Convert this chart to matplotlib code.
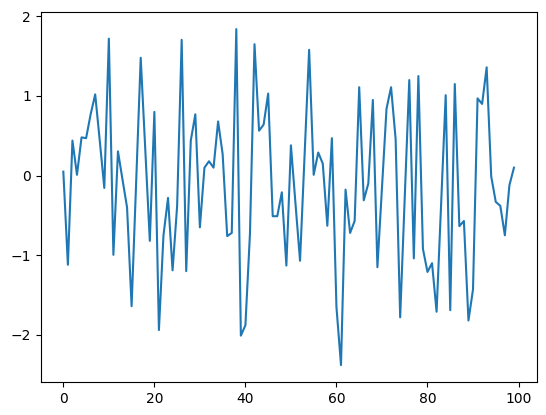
import matplotlib
matplotlib.use("Agg")
import matplotlib.pyplot as plt
import numpy as np

values = [
    0.05, -1.12, 0.44, 0.01, 0.48, 0.47, 0.77, 1.02, 0.44, -0.155,
    1.72, -0.995, 0.305, -0.05, -0.40, -1.64, -0.08, 1.48, 0.33, -0.82,
    0.80, -1.94, -0.75, -0.28, -1.19, -0.38, 1.705, -1.20, 0.44, 0.77,
    -0.65, 0.10, 0.18, 0.10, 0.68, 0.27, -0.76, -0.72, 1.84, -2.01,
    -1.88, -0.73, 1.65, 0.564, 0.64, 1.03, -0.51, -0.51, -0.21, -1.13,
    0.38, -0.35, -1.07, 0.255, 1.58, 0.01, 0.29, 0.15, -0.63, 0.47,
    -1.65, -2.38, -0.176, -0.72, -0.57, 1.11, -0.31, -0.10, 0.95, -1.15,
    -0.155, 0.84, 1.11, 0.46, -1.78, -0.28, 1.20, -1.04, 1.25, -0.92,
    -1.21, -1.10, -1.71, -0.35, 1.01, -1.69, 1.15, -0.635, -0.57, -1.82,
    -1.43, 0.97, 0.90, 1.36, -0.01, -0.33, -0.38, -0.75, -0.12, 0.10,
]
x = np.arange(len(values))

W, H = 546, 415
fig = plt.figure(figsize=(W / 100, H / 100), dpi=100)
ax = fig.add_axes([40.8 / W, (H - 381.9) / H, 495.7 / W, 369.6 / H])
ax.plot(x, values)
fig.savefig("out.png", dpi=100)
